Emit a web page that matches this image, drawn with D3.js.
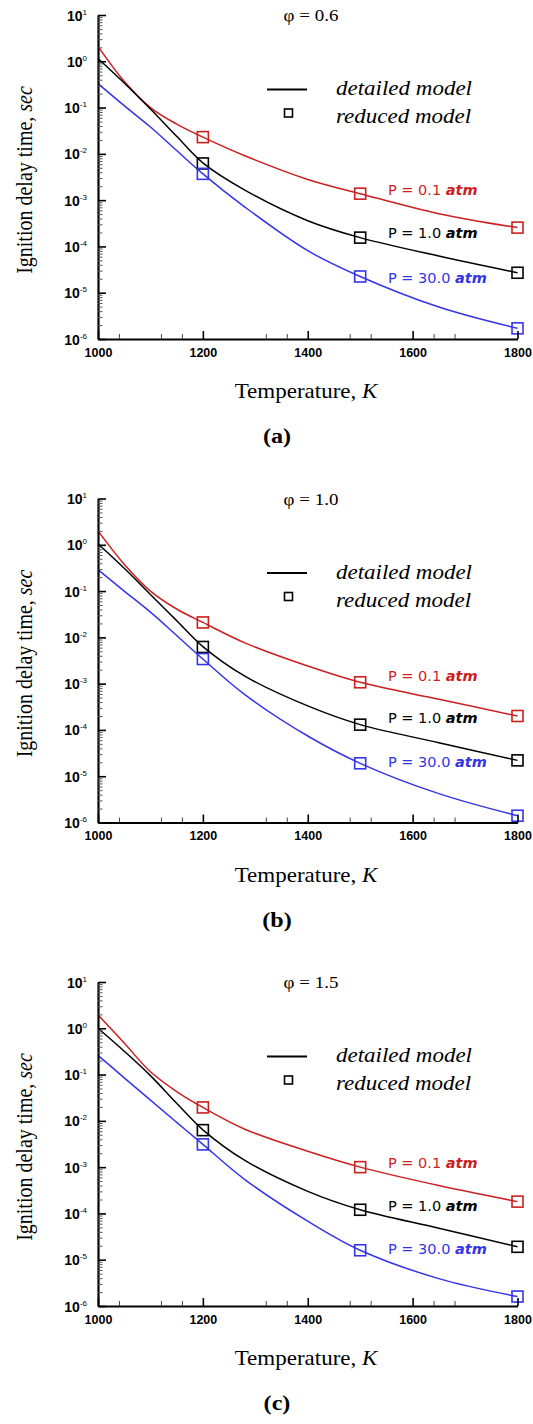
<!DOCTYPE html>
<html>
<head>
<meta charset="utf-8">
<script src="https://cdn.jsdelivr.net/npm/d3@7"></script>
<style>
  body { margin: 0; background: #fff; }
</style>
</head>
<body>
<script>
var temps = [1000, 1050, 1100, 1150, 1200, 1280, 1400, 1500, 1650, 1800];
// temperatures of the reduced-model squares
var markTemps = [1200, 1500, 1800];

// ignition delay time (s), phi = 0.6
var a_p01  = [2.1, 0.37, 0.10, 0.044, 0.023, 9.1e-3, 2.8e-3, 1.38e-3, 5.1e-4, 2.55e-4];
var a_p10  = [1.15, 0.34, 0.093, 0.024, 6.4e-3, 1.65e-3, 3.6e-4, 1.55e-4, 6.2e-5, 2.7e-5];
var a_p300 = [0.33, 0.11, 0.038, 0.0118, 3.7e-3, 7.1e-4, 8.1e-5, 2.24e-5, 4.9e-6, 1.7e-6];
var a_m01  = [0.023, 1.38e-3, 2.55e-4];
var a_m10  = [6.2e-3, 1.55e-4, 2.7e-5];
var a_m300 = [3.7e-3, 2.24e-5, 1.7e-6];

// phi = 1.0
var b_p01  = [2.0, 0.38, 0.10, 0.041, 0.021, 7.6e-3, 2.4e-3, 1.07e-3, 4.6e-4, 2.0e-4];
var b_p10  = [1.05, 0.31, 0.084, 0.023, 6.3e-3, 1.45e-3, 3.3e-4, 1.3e-4, 5.3e-5, 2.2e-5];
var b_p300 = [0.29, 0.10, 0.035, 0.011, 3.4e-3, 5.8e-4, 7.4e-5, 1.9e-5, 4.2e-6, 1.4e-6];
var b_m01  = [0.021, 1.07e-3, 2.0e-4];
var b_m10  = [6.2e-3, 1.3e-4, 2.2e-5];
var b_m300 = [3.4e-3, 1.9e-5, 1.4e-6];

// phi = 1.5
var c_p01  = [1.95, 0.48, 0.115, 0.043, 0.0195, 6.6e-3, 2.2e-3, 1.0e-3, 4.0e-4, 1.8e-4];
var c_p10  = [1.0, 0.32, 0.095, 0.024, 6.4e-3, 1.4e-3, 3.0e-4, 1.2e-4, 4.8e-5, 1.9e-5];
var c_p300 = [0.26, 0.085, 0.028, 9.3e-3, 3.1e-3, 5.4e-4, 6.8e-5, 1.6e-5, 3.9e-6, 1.6e-6];
var c_m01  = [0.0195, 1.0e-3, 1.8e-4];
var c_m10  = [6.3e-3, 1.2e-4, 1.9e-5];
var c_m300 = [3.1e-3, 1.6e-5, 1.6e-6];

var phiLabels = ['φ = 0.6', 'φ = 1.0', 'φ = 1.5'];
var panelTags = ['(a)', '(b)', '(c)'];
var pLabels = ['P = 0.1 ', 'P = 1.0 ', 'P = 30.0 '];
var colors = ['#cc1f1f', '#000000', '#3535e8'];

var xTicks = [1000, 1200, 1400, 1600, 1800];
var xMinor = [1040, 1120, 1160, 1320, 1360, 1480, 1520, 1640, 1680];
var yTicks = [1e1, 1e0, 1e-1, 1e-2, 1e-3, 1e-4, 1e-5, 1e-6];
var yExp = ['1', '0', '-1', '-2', '-3', '-4', '-5', '-6'];

var curves = [[a_p01, a_p10, a_p300], [b_p01, b_p10, b_p300], [c_p01, c_p10, c_p300]];
var marks = [[a_m01, a_m10, a_m300], [b_m01, b_m10, b_m300], [c_m01, c_m10, c_m300]];

// layout
var W = 533, H = 1424;
var tops = [15, 498.5, 982];
var plotH = 324;
var labelY = [[175, 218, 263], [177, 219, 263], [181, 224, 267]];
var serif = '"Liberation Serif", "Times New Roman", serif';
var sans = '"Liberation Sans", Arial, sans-serif';
var lsans = '"DejaVu Sans", Verdana, sans-serif';
var stretch = 1.15;   // the source figure is a little wider than tall

var svg = d3.select('body').append('svg')
    .attr('width', W).attr('height', H)
    .style('background', '#fff');

var x = d3.scaleLinear().domain([1000, 1800]).range([98, 517.5]);

var yMinor = [];
for (var e = -6; e < 1; e++) {
    for (var m = 2; m <= 9; m++) yMinor.push(m * Math.pow(10, e));
}

function serifText(g, tx, ty, size, extra) {
    return g.append('text')
        .attr('transform', 'translate(' + tx + ',' + ty + ') scale(' + stretch + ',1)' + (extra || ''))
        .attr('font-family', serif).attr('font-size', size);
}

tops.forEach(function (top, p) {
    var g = svg.append('g');
    var y = d3.scaleLog().domain([1e-6, 10]).range([top + plotH, top]);

    var line = d3.line()
        .x(function (d) { return x(d[0]); })
        .y(function (d) { return y(d[1]); })
        .curve(d3.curveCatmullRom.alpha(0.5));

    curves[p].forEach(function (vals, s) {
        g.append('path')
            .datum(d3.zip(temps, vals))
            .attr('d', line)
            .attr('fill', 'none')
            .attr('stroke', colors[s])
            .attr('stroke-width', 1.5);
    });

    marks[p].forEach(function (vals, s) {
        g.selectAll(null)
            .data(d3.zip(markTemps, vals))
            .enter().append('rect')
            .attr('x', function (d) { return x(d[0]) - 5.5; })
            .attr('y', function (d) { return y(d[1]) - 5.5; })
            .attr('width', 11).attr('height', 11)
            .attr('fill', 'none')
            .attr('stroke', colors[s])
            .attr('stroke-width', 1.6);
    });

    // axes: ticks point inward
    var xb = top + plotH;
    var gx = g.append('g').attr('transform', 'translate(0,' + xb + ')')
        .call(d3.axisBottom(x).tickValues(xTicks).tickSize(-8).tickSizeOuter(0)
            .tickPadding(9).tickFormat(d3.format('d')));
    g.append('g').attr('transform', 'translate(0,' + xb + ')')
        .call(d3.axisBottom(x).tickValues(xMinor).tickSize(-5).tickFormat(''))
        .call(function (s) { s.select('.domain').remove(); })
        .selectAll('line').attr('stroke', '#444');

    var gy = g.append('g').attr('transform', 'translate(' + x(1000) + ',0)')
        .call(d3.axisLeft(y).tickValues(yTicks).tickSize(-8).tickSizeOuter(0).tickPadding(11));
    g.append('g').attr('transform', 'translate(' + x(1000) + ',0)')
        .call(d3.axisLeft(y).tickValues(yMinor).tickSize(-4.5).tickFormat(''))
        .call(function (s) { s.select('.domain').remove(); })
        .selectAll('line').attr('stroke', '#555');

    [gx, gy].forEach(function (a) {
        a.select('.domain').attr('stroke', '#000').attr('stroke-width', 2.2);
        a.selectAll('.tick line').attr('stroke', '#000').attr('stroke-width', 1.6);
        a.selectAll('text').attr('font-family', sans).attr('font-weight', 'bold')
            .attr('font-size', 12.5).attr('fill', '#000');
    });

    gy.selectAll('.tick text').each(function (d, i) {
        var t = d3.select(this).text(null).attr('dy', '0.36em').attr('font-size', 14);
        t.append('tspan').text('10');
        t.append('tspan').attr('dy', -6).attr('font-size', 8).attr('font-weight', 'normal').text(yExp[i]);
    });

    // titles
    serifText(g, 311, top + 6, 16.5)
        .attr('text-anchor', 'middle')
        .text(phiLabels[p]);

    serifText(g, 32, top + 165, 20, ' rotate(-90)')
        .attr('text-anchor', 'middle')
        .text('Ignition delay time, ')
        .append('tspan').attr('font-style', 'italic').text('sec');

    serifText(g, 306, top + 383, 20)
        .attr('text-anchor', 'middle')
        .text('Temperature, ')
        .append('tspan').attr('font-style', 'italic').text('K');

    serifText(g, 277, top + 428, 21)
        .attr('text-anchor', 'middle')
        .attr('font-weight', 'bold')
        .text(panelTags[p]);

    // legend
    g.append('line')
        .attr('x1', 267).attr('x2', 307)
        .attr('y1', top + 74.5).attr('y2', top + 74.5)
        .attr('stroke', '#000').attr('stroke-width', 1.8);
    g.append('rect')
        .attr('x', 284.5).attr('y', top + 94).attr('width', 8).attr('height', 8)
        .attr('fill', 'none').attr('stroke', '#000').attr('stroke-width', 1.6);
    serifText(g, 336, top + 80, 20)
        .attr('font-style', 'italic')
        .text('detailed model');
    serifText(g, 336, top + 108, 20)
        .attr('font-style', 'italic')
        .text('reduced model');

    // pressure labels
    pLabels.forEach(function (lab, s) {
        var t = g.append('text')
            .attr('x', 388).attr('y', top + labelY[p][s] + 5)
            .attr('font-family', lsans).attr('font-size', 14.5)
            .attr('fill', colors[s])
            .text(lab);
        t.append('tspan').attr('font-weight', 'bold').attr('font-style', 'italic').text('atm');
    });
});
</script>
</body>
</html>
